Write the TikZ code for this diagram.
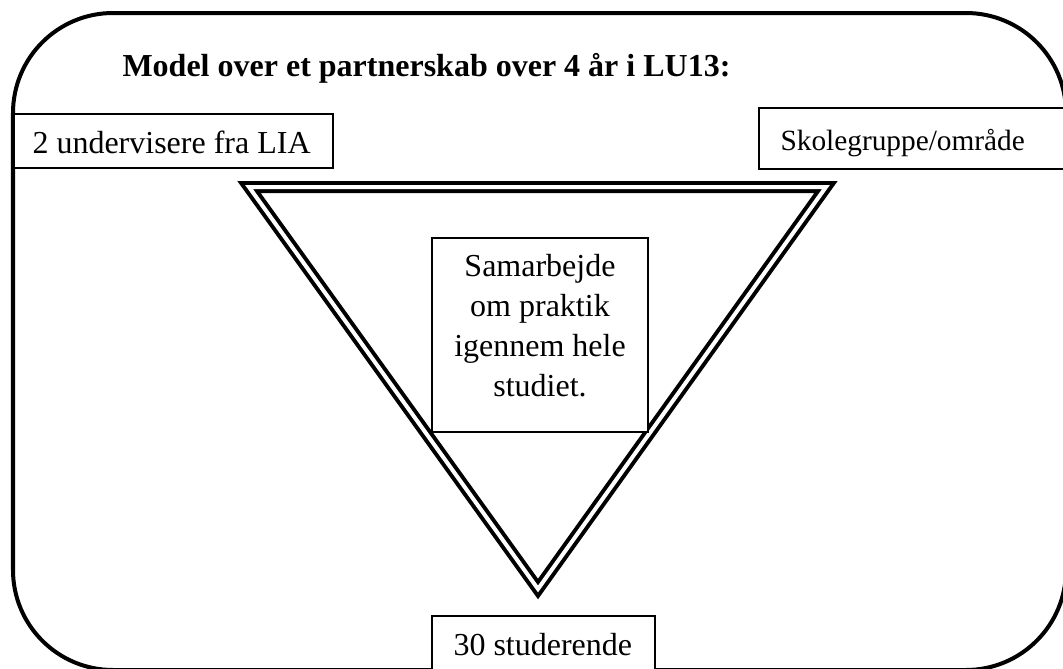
\documentclass[tikz,border=0pt]{standalone}
\usepackage{fontspec}
\setmainfont{Liberation Serif}
\begin{document}
\begin{tikzpicture}[x=0.375pt,y=-0.375pt,
  frame/.style={line width=1.5pt, rounded corners=37.5pt},
  box/.style={line width=0.5pt, fill=white},
  tri/.style={double, line width=1.5pt, double distance=1.5pt, line join=miter},
  txt/.style={font=\fontsize{12}{15}\selectfont, inner sep=0pt},
]
\useasboundingbox (0,0) rectangle (1063,669);
\clip (0,0) rectangle (1063,669);
\draw[frame] (13,13) rectangle (1066,670);
\node[txt, font=\bfseries\fontsize{12}{15}\selectfont, anchor=base west] (title) at (122,76) {Model over et partnerskab over 4 år i LU13:};
\draw[box] (14,114) rectangle (333,168);
\node[txt, anchor=base west] (lia) at (32,153) {2 undervisere fra LIA};
\draw[box] (759,108) rectangle (1070,169);
\node[txt, font=\fontsize{11}{13}\selectfont, anchor=base west] (skole) at (780,150) {Skolegruppe/område};
\draw[tri] (249,187) -- (826,187) -- (538,589) -- cycle;
\draw[box] (432,238) rectangle (648,432);
\node[txt, align=center] (samarbejde) at (540,326) {Samarbejde\\om praktik\\igennem hele\\studiet.};
\draw[box] (432,616) rectangle (655,680);
\node[txt, anchor=base west] (studerende) at (453,655) {30 studerende};
\end{tikzpicture}
\end{document}
